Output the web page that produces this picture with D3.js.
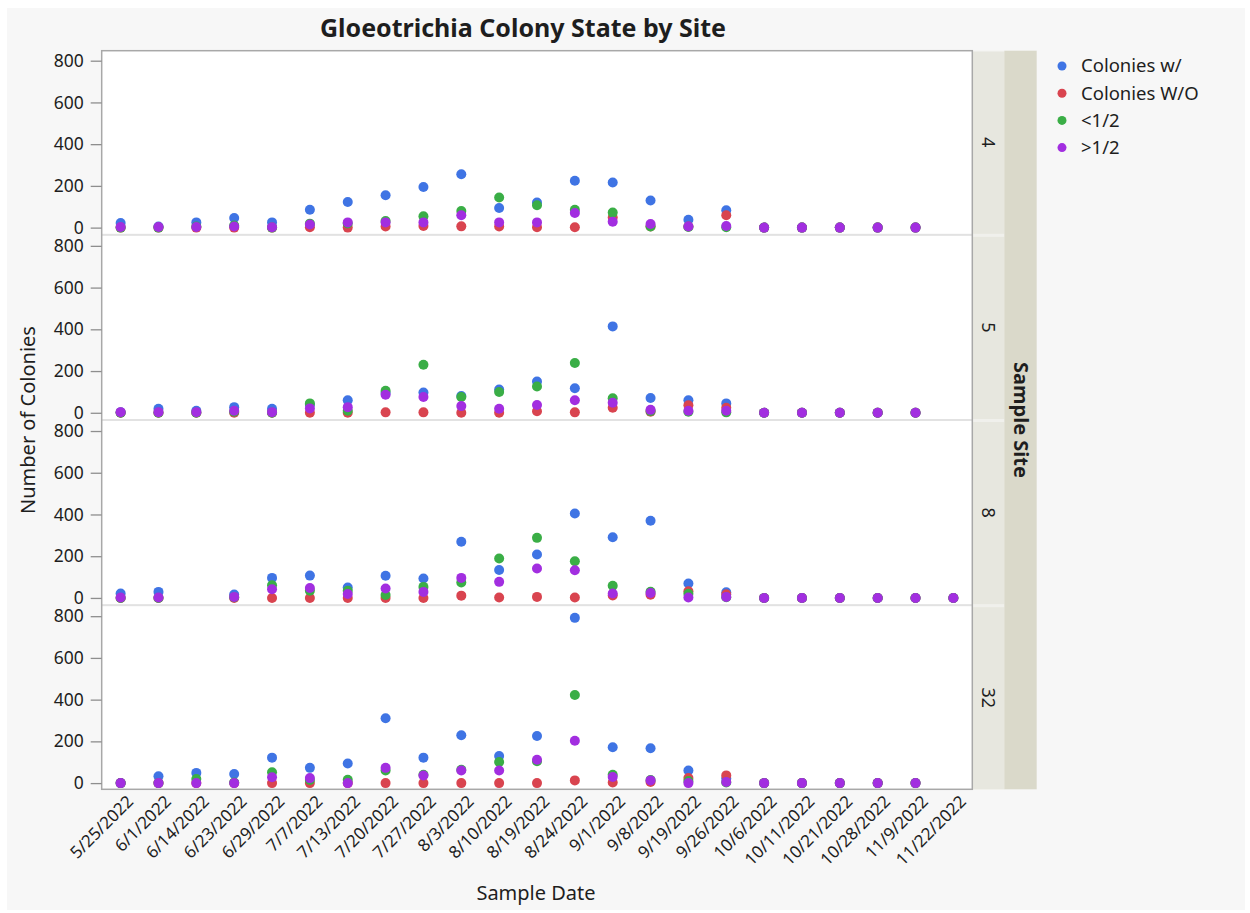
<!DOCTYPE html>
<html>
<head>
<meta charset="utf-8">
<script src="https://cdn.jsdelivr.net/npm/d3@7"></script>
<style>
  body { margin: 0; background: #ffffff; }
  text { font-family: "Noto Sans", "Open Sans", sans-serif; fill: #1e1e1e; }
</style>
</head>
<body>
<svg id="chart" width="1250" height="913"></svg>
<script>
// ---- data -------------------------------------------------------------
const sampleDates = ["5/25/2022","6/1/2022","6/14/2022","6/23/2022","6/29/2022","7/7/2022",
  "7/13/2022","7/20/2022","7/27/2022","8/3/2022","8/10/2022","8/19/2022","8/24/2022",
  "9/1/2022","9/8/2022","9/19/2022","9/26/2022","10/6/2022","10/11/2022","10/21/2022",
  "10/28/2022","11/9/2022","11/22/2022"];
const sampleSites = ["4","5","8","32"];
const seriesNames = ["Colonies w/","Colonies W/O","<1/2",">1/2"];
const seriesColors = ["#3f74e4","#d9444f","#3aae46","#a22ee0"];
const yTickValues = [0,200,400,600,800];
const yMinorValues = [100,300,500,700];

// site 4
const site4With    = [22,5,25,46,25,86,123,155,195,256,94,120,225,216,130,38,83,0,0,0,0,0,null];
const site4Without = [0,0,0,0,0,2,0,5,8,6,5,2,2,48,5,5,59,0,0,0,0,0,null];
const site4Less    = [0,0,5,10,0,19,20,32,54,80,144,107,86,72,5,3,2,0,0,0,0,0,null];
const site4More    = [3,3,3,5,2,15,25,25,25,59,25,25,70,28,17,5,8,0,0,0,0,0,null];
// site 5
const site5With    = [2,19,10,27,19,38,60,95,97,80,111,150,118,414,71,60,45,0,0,0,0,0,null];
const site5Without = [0,0,0,0,0,0,0,2,2,0,0,7,2,24,5,36,24,0,0,0,0,0,null];
const site5Less    = [0,0,0,5,0,45,10,105,230,76,100,126,239,70,8,5,2,0,0,0,0,0,null];
const site5More    = [3,3,3,10,3,21,27,86,76,32,19,37,60,48,14,10,10,0,0,0,0,0,null];
// site 8
const site8With    = [21,29,null,16,96,107,50,106,93,269,134,208,405,291,370,69,27,0,0,0,0,0,0];
const site8Without = [0,0,null,0,0,0,0,0,0,11,2,5,2,12,15,32,18,0,0,0,0,0,0];
const site8Less    = [0,0,null,3,61,35,34,14,53,74,189,288,176,58,30,20,3,0,0,0,0,0,0];
const site8More    = [2,2,null,5,42,48,19,45,29,96,77,141,133,21,24,2,5,0,0,0,0,0,0];
// site 32
const site32With    = [0,33,49,44,122,73,94,311,122,229,130,226,792,172,167,60,22,0,0,0,0,0,null];
const site32Without = [0,0,0,0,0,0,0,0,0,0,0,0,13,3,5,24,37,0,0,0,0,0,null];
const site32Less    = [0,0,20,3,52,15,16,60,40,64,101,105,422,40,15,10,3,0,0,0,0,0,null];
const site32More    = [0,0,0,0,28,24,0,73,36,60,60,112,203,29,13,0,5,0,0,0,0,0,null];

const siteSeries = {
  "4":  [site4With,  site4Without,  site4Less,  site4More],
  "5":  [site5With,  site5Without,  site5Less,  site5More],
  "8":  [site8With,  site8Without,  site8Less,  site8More],
  "32": [site32With, site32Without, site32Less, site32More]
};

// ---- layout -----------------------------------------------------------
const W = 1250, H = 913;
const plot = { left: 101.7, right: 972.3, top: 50.7, bottom: 789.3 };
const strip1W = 32, strip2W = 32.4;

const svg = d3.select("#chart");

// page background
svg.append("rect").attr("x", 7).attr("y", 8).attr("width", W - 12).attr("height", H - 11)
  .attr("fill", "#f7f7f7");

// scales
const x = d3.scalePoint().domain(sampleDates).range([plot.left, plot.right]).padding(0.5);
const panel = d3.scaleBand().domain(sampleSites).range([plot.top, plot.bottom]).paddingInner(0.011);
const bw = panel.bandwidth();
const yFor = site => d3.scaleLinear().domain([0, 800])
  .range([panel(site) + bw - 6.2, panel(site) + 10]);

// plot area with separators between panels
svg.append("rect").attr("x", plot.left).attr("y", plot.top)
  .attr("width", plot.right - plot.left).attr("height", plot.bottom - plot.top)
  .attr("fill", "#e2e2e2");
svg.selectAll("rect.panel").data(sampleSites).join("rect").attr("class", "panel")
  .attr("x", plot.left).attr("y", d => panel(d))
  .attr("width", plot.right - plot.left).attr("height", bw).attr("fill", "#ffffff");

// strips on the right: site labels and the group title
svg.append("rect").attr("x", plot.right).attr("y", plot.top)
  .attr("width", strip1W).attr("height", plot.bottom - plot.top).attr("fill", "#f0f0ec");
svg.selectAll("rect.strip").data(sampleSites).join("rect").attr("class", "strip")
  .attr("x", plot.right).attr("y", d => panel(d) + 1)
  .attr("width", strip1W).attr("height", bw - 1).attr("fill", "#e7e7df");
svg.append("rect").attr("x", plot.right + strip1W).attr("y", plot.top)
  .attr("width", strip2W).attr("height", plot.bottom - plot.top).attr("fill", "#dad9ca");

svg.selectAll("text.site").data(sampleSites).join("text").attr("class", "site")
  .attr("transform", d => `translate(${plot.right + strip1W / 2},${panel(d) + bw / 2}) rotate(90)`)
  .attr("text-anchor", "middle").attr("dy", "0.35em")
  .style("font-size", "18px").text(d => d);
svg.append("text")
  .attr("transform", `translate(${plot.right + strip1W + strip2W / 2},${(plot.top + plot.bottom) / 2}) rotate(90)`)
  .attr("text-anchor", "middle").attr("dy", "0.35em")
  .style("font-size", "20px").style("font-weight", "bold").text("Sample Site");

// frame
svg.append("rect").attr("x", plot.left).attr("y", plot.top)
  .attr("width", plot.right - plot.left).attr("height", plot.bottom - plot.top)
  .attr("fill", "none").attr("stroke", "#a8a8a8").attr("stroke-width", 1.5);

// y axes, one per panel
sampleSites.forEach(site => {
  const y = yFor(site);
  const g = svg.append("g").attr("transform", `translate(${plot.left},0)`);
  g.call(d3.axisLeft(y).tickValues(yMinorValues).tickSize(5).tickFormat(""));
  g.call(d3.axisLeft(y).tickValues(yTickValues).tickSize(11).tickPadding(7).tickFormat(d3.format("d")));
  g.select(".domain").remove();
  g.selectAll(".tick line").attr("stroke", "#8e8e8e").attr("stroke-width", 1.3);
  g.selectAll(".tick text").style("font-size", "17.5px").style("font-family", "\"Noto Sans\", sans-serif")
    .attr("fill", "#222");
});

// x axis labels
const gx = svg.append("g").attr("transform", `translate(0,${plot.bottom})`)
  .call(d3.axisBottom(x).tickSize(0).tickPadding(0));
gx.select(".domain").remove();
gx.selectAll(".tick text")
  .attr("text-anchor", "end")
  .attr("transform", "translate(9,9) rotate(-45)")
  .attr("dy", "0.35em").attr("y", 0)
  .style("font-size", "17px").style("font-family", "\"Noto Sans\", sans-serif").attr("fill", "#222");

// points
sampleSites.forEach(site => {
  const y = yFor(site);
  const pts = [];
  siteSeries[site].forEach((vals, si) => {
    vals.forEach((v, i) => { if (v !== null) pts.push({ date: sampleDates[i], value: v, s: si }); });
  });
  svg.append("g").selectAll("circle").data(pts).join("circle")
    .attr("cx", d => x(d.date)).attr("cy", d => y(d.value)).attr("r", 5)
    .attr("fill", d => seriesColors[d.s]);
});

// title and axis titles
svg.append("text").attr("x", 523).attr("y", 37).attr("text-anchor", "middle")
  .style("font-size", "25px").style("font-weight", "bold").text("Gloeotrichia Colony State by Site");
svg.append("text").attr("x", 536).attr("y", 900).attr("text-anchor", "middle")
  .style("font-size", "20px").text("Sample Date");
svg.append("text").attr("transform", `translate(35,${(plot.top + plot.bottom) / 2}) rotate(-90)`)
  .attr("text-anchor", "middle").style("font-size", "20px").text("Number of Colonies");

// legend
const legend = svg.append("g").attr("transform", "translate(1062,66)");
const items = legend.selectAll("g").data(seriesNames).join("g")
  .attr("transform", (d, i) => `translate(0,${i * 27.2})`);
items.append("circle").attr("r", 4.5).attr("fill", (d, i) => seriesColors[i]);
items.append("text").attr("x", 19).attr("dy", "0.35em").style("font-size", "18.5px").text(d => d);
</script>
</body>
</html>
